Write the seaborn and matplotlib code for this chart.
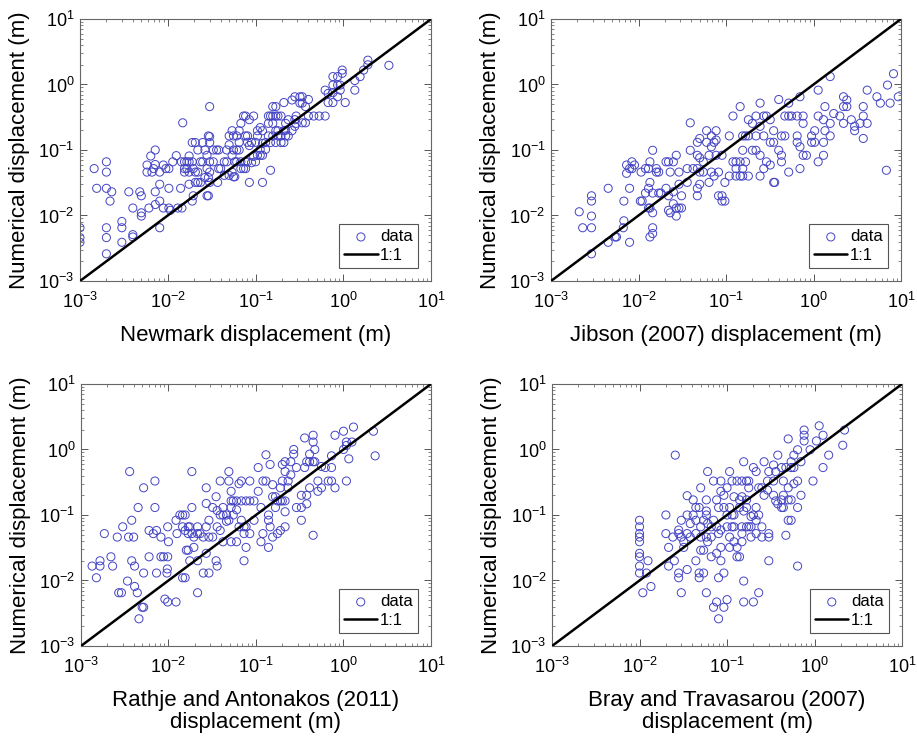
import matplotlib
matplotlib.use("Agg")
import matplotlib.pyplot as plt
import seaborn as sns
import pandas as pd

# Newmark vs numerical
newmark_x = [0.001, 0.001, 0.001, 0.00145, 0.00155, 0.002, 0.002, 0.002, 0.002, 0.002, 0.002,
             0.0023, 0.0022, 0.003, 0.003, 0.003, 0.0036, 0.004, 0.004, 0.004, 0.0048, 0.005, 0.005, 0.005,
             0.0058, 0.0058, 0.0061, 0.0064, 0.0066, 0.0069, 0.0072, 0.0072, 0.0072, 0.0072,
             0.0081, 0.0081, 0.0081, 0.0081, 0.0089, 0.0089, 0.0095, 0.0103, 0.0103, 0.0103, 0.0107,
             0.0114, 0.0125, 0.013, 0.0145, 0.014, 0.0143, 0.0148, 0.0155, 0.0155, 0.0155, 0.0165, 0.0165,
             0.0175, 0.0175, 0.0175, 0.0175, 0.019, 0.019, 0.019, 0.0195, 0.0195, 0.0206, 0.0206, 0.0206,
             0.022, 0.022, 0.022, 0.0236, 0.0236, 0.025, 0.025, 0.0265, 0.0265, 0.028, 0.028, 0.028,
             0.029, 0.029, 0.029, 0.030, 0.030, 0.030, 0.030, 0.030, 0.030, 0.033, 0.033, 0.036, 0.037,
             0.038, 0.038, 0.04, 0.044, 0.044, 0.047, 0.047, 0.05, 0.05, 0.05, 0.054, 0.054, 0.054,
             0.056, 0.056, 0.056, 0.058, 0.058, 0.061, 0.061, 0.061, 0.065, 0.065, 0.065,
             0.068, 0.068, 0.068, 0.073, 0.073, 0.077, 0.077, 0.077, 0.077, 0.081, 0.081, 0.081,
             0.085, 0.085, 0.085, 0.09, 0.09, 0.095, 0.095, 0.10, 0.10, 0.105, 0.105, 0.105,
             0.113, 0.113, 0.113, 0.12, 0.12, 0.12, 0.12, 0.13, 0.13, 0.14, 0.14, 0.14,
             0.148, 0.148, 0.148, 0.157, 0.157, 0.157, 0.157, 0.17, 0.17, 0.17, 0.17,
             0.18, 0.18, 0.18, 0.195, 0.195, 0.195, 0.21, 0.21, 0.21, 0.22, 0.22, 0.22,
             0.236, 0.236, 0.26, 0.26, 0.28, 0.28, 0.28, 0.29, 0.29, 0.32, 0.32, 0.34, 0.34, 0.34,
             0.37, 0.37, 0.40, 0.40, 0.46, 0.53, 0.62, 0.62, 0.67, 0.67, 0.76, 0.76, 0.76, 0.76,
             0.86, 0.86, 0.86, 0.92, 0.92, 0.97, 0.97, 1.05, 1.35, 1.35, 1.55, 1.7, 1.9, 1.9, 3.3]
newmark_y = [0.0065, 0.0046, 0.0039, 0.052, 0.026, 0.066, 0.046, 0.026, 0.0065, 0.0046, 0.0026,
             0.023, 0.0166, 0.0081, 0.0065, 0.0039, 0.023, 0.013, 0.0051, 0.0047, 0.023, 0.02, 0.011, 0.0098,
             0.059, 0.046, 0.013, 0.081, 0.046, 0.052, 0.10, 0.06, 0.023, 0.0147,
             0.030, 0.0166, 0.0065, 0.046, 0.059, 0.013, 0.052, 0.052, 0.026, 0.013, 0.012,
             0.066, 0.082, 0.013, 0.013, 0.026, 0.066, 0.26, 0.066, 0.052, 0.046, 0.066, 0.052,
             0.081, 0.066, 0.046, 0.030, 0.066, 0.13, 0.0166, 0.052, 0.02, 0.13, 0.032, 0.046,
             0.1, 0.046, 0.032, 0.032, 0.066, 0.066, 0.13, 0.10, 0.038, 0.083, 0.052, 0.02,
             0.02, 0.038, 0.164, 0.16, 0.46, 0.13, 0.066, 0.046, 0.032, 0.10, 0.066, 0.10, 0.032,
             0.10, 0.052, 0.052, 0.066, 0.041, 0.066, 0.10, 0.12, 0.041, 0.164, 0.197, 0.046, 0.083,
             0.10, 0.164, 0.039, 0.066, 0.039, 0.164, 0.066, 0.10, 0.10, 0.197, 0.131,
             0.255, 0.066, 0.052, 0.33, 0.052, 0.33, 0.052, 0.066, 0.164, 0.164, 0.066, 0.131,
             0.29, 0.032, 0.117, 0.13, 0.064, 0.33, 0.08, 0.066, 0.131, 0.164, 0.083, 0.197,
             0.22, 0.083, 0.102, 0.032, 0.083, 0.197, 0.126, 0.13, 0.102, 0.33, 0.164, 0.255,
             0.33, 0.049, 0.13, 0.46, 0.33, 0.164, 0.255, 0.46, 0.33, 0.13, 0.197,
             0.33, 0.197, 0.164, 0.164, 0.33, 0.13, 0.13, 0.53, 0.197, 0.255, 0.164, 0.2,
             0.164, 0.29, 0.58, 0.197, 0.65, 0.29, 0.23, 0.33, 0.255, 0.65, 0.52, 0.65, 0.52, 0.26,
             0.46, 0.26, 0.59, 0.33, 0.33, 0.33, 0.82, 0.33, 0.73, 0.53, 1.32, 0.53, 0.75, 0.98,
             1.32, 0.98, 0.65, 0.98, 0.82, 1.66, 1.48, 0.53, 0.82, 1.15, 1.32, 1.66, 2.35, 2.0, 1.96]

# Jibson (2007) vs numerical
jibson_x = [0.0021, 0.0023, 0.0029, 0.0029, 0.0029, 0.0029, 0.0029, 0.0045, 0.0045, 0.0054, 0.0056,
            0.0068, 0.0067, 0.0068, 0.0073, 0.0073, 0.0079, 0.0079, 0.0079, 0.0084, 0.0084, 0.009,
            0.0107, 0.0105, 0.011, 0.012, 0.012, 0.013, 0.013, 0.013, 0.0135, 0.0135, 0.0135, 0.0135,
            0.0145, 0.0145, 0.0145, 0.0145, 0.0145, 0.016, 0.016, 0.017, 0.017, 0.018, 0.0206, 0.0206,
            0.022, 0.022, 0.022, 0.023, 0.023, 0.025, 0.025, 0.025, 0.027, 0.027, 0.027,
            0.029, 0.029, 0.029, 0.031, 0.031, 0.036, 0.036, 0.039, 0.039, 0.042,
            0.047, 0.047, 0.047, 0.047, 0.047, 0.05, 0.05, 0.05, 0.05, 0.055, 0.055, 0.06, 0.06,
            0.064, 0.064, 0.068, 0.068, 0.068, 0.073, 0.073, 0.077, 0.077, 0.077, 0.082, 0.082,
            0.09, 0.09, 0.09, 0.097, 0.097, 0.109, 0.109, 0.12, 0.12, 0.13, 0.13, 0.13,
            0.145, 0.145, 0.145, 0.155, 0.155, 0.155, 0.155, 0.167, 0.167, 0.18, 0.18, 0.18,
            0.2, 0.2, 0.22, 0.22, 0.22, 0.245, 0.245, 0.245, 0.245, 0.27, 0.27, 0.27, 0.29, 0.29,
            0.32, 0.32, 0.32, 0.35, 0.35, 0.35, 0.36, 0.40, 0.40, 0.43, 0.43, 0.43, 0.47, 0.47,
            0.52, 0.52, 0.52, 0.56, 0.65, 0.65, 0.65, 0.7, 0.7, 0.7, 0.76, 0.76, 0.76, 0.83,
            0.95, 0.95, 1.03, 1.03, 1.13, 1.13, 1.13, 1.3, 1.3, 1.3, 1.35, 1.35, 1.55, 1.55, 1.55,
            1.7, 2.0, 2.2, 2.2, 2.2, 2.4, 2.4, 2.7, 2.95, 2.95, 3.4, 3.7, 3.7, 3.7, 4.1, 4.1,
            5.3, 5.8, 7.0, 6.8, 7.5, 8.2, 9.3]
jibson_y = [0.0114, 0.0065, 0.0065, 0.020, 0.0166, 0.0098, 0.0026, 0.026, 0.0039, 0.0047, 0.0047,
            0.0083, 0.0065, 0.0166, 0.059, 0.044, 0.026, 0.0039, 0.052, 0.052, 0.066, 0.059,
            0.046, 0.0166, 0.0166, 0.022, 0.052, 0.026, 0.013, 0.052, 0.0047, 0.013, 0.032, 0.066,
            0.0065, 0.0053, 0.022, 0.011, 0.099, 0.052, 0.046, 0.046, 0.022, 0.022, 0.066, 0.026,
            0.020, 0.066, 0.012, 0.046, 0.011, 0.066, 0.0151, 0.023, 0.013, 0.0098, 0.083,
            0.046, 0.030, 0.013, 0.013, 0.020, 0.032, 0.052, 0.26, 0.099, 0.052,
            0.131, 0.083, 0.020, 0.026, 0.052, 0.15, 0.076, 0.046, 0.030, 0.046, 0.066, 0.197, 0.131,
            0.032, 0.083, 0.164, 0.112, 0.046, 0.131, 0.040, 0.197, 0.142, 0.083, 0.046, 0.020,
            0.083, 0.020, 0.0166, 0.032, 0.0166, 0.164, 0.040, 0.33, 0.066, 0.052, 0.040, 0.066,
            0.46, 0.066, 0.040, 0.164, 0.099, 0.052, 0.040, 0.164, 0.066, 0.29, 0.164, 0.040,
            0.099, 0.255, 0.33, 0.164, 0.099, 0.52, 0.23, 0.083, 0.040, 0.33, 0.164, 0.052, 0.33, 0.066,
            0.29, 0.131, 0.059, 0.131, 0.197, 0.032, 0.032, 0.59, 0.099, 0.083, 0.066, 0.164, 0.164, 0.33,
            0.52, 0.33, 0.046, 0.33, 0.164, 0.33, 0.131, 0.112, 0.052, 0.65, 0.255, 0.083, 0.33, 0.083,
            0.164, 0.131, 0.131, 0.197, 0.33, 0.066, 0.82, 0.131, 0.29, 0.083, 0.46, 0.197, 1.32, 0.255, 0.164,
            0.36, 0.33, 0.65, 0.46, 0.255, 0.58, 0.46, 0.29, 0.197, 0.23, 0.255, 0.46, 0.33, 0.15, 0.82, 0.255,
            0.65, 0.52, 0.98, 0.049, 0.52, 1.46, 0.65]

# Rathje and Antonakos (2011) vs numerical
rathje_x = [0.00134, 0.0015, 0.00165, 0.00165, 0.00185, 0.0022, 0.0023, 0.0026, 0.0027, 0.0029, 0.003,
            0.0034, 0.0035, 0.0036, 0.0038, 0.0038, 0.004, 0.0041, 0.0041, 0.0044, 0.0045, 0.0046,
            0.005, 0.0052, 0.0052, 0.0052, 0.006, 0.006, 0.0067, 0.007, 0.007, 0.0073, 0.0073,
            0.0082, 0.0082, 0.0088, 0.0091, 0.0096, 0.0097, 0.0098, 0.0098, 0.0098, 0.01, 0.0122, 0.0122,
            0.0125, 0.0135, 0.0145, 0.0145, 0.0145, 0.0155, 0.0155, 0.0155, 0.016, 0.0168, 0.0168, 0.0168,
            0.0175, 0.0175, 0.0185, 0.0185, 0.0185, 0.0195, 0.0195, 0.0215, 0.0215, 0.0215, 0.0215,
            0.023, 0.025, 0.025, 0.027, 0.027, 0.027, 0.027, 0.029, 0.029, 0.029, 0.032, 0.032,
            0.035, 0.035, 0.036, 0.036, 0.036, 0.039, 0.039, 0.039, 0.042, 0.042, 0.042, 0.046, 0.046,
            0.049, 0.049, 0.049, 0.052, 0.052, 0.052, 0.052, 0.055, 0.055, 0.06, 0.06, 0.06, 0.064, 0.064,
            0.068, 0.068, 0.068, 0.073, 0.073, 0.073, 0.077, 0.077, 0.077, 0.085, 0.085, 0.085,
            0.095, 0.095, 0.106, 0.106, 0.114, 0.114, 0.12, 0.12, 0.13, 0.13, 0.139, 0.139, 0.139,
            0.145, 0.145, 0.155, 0.155, 0.155, 0.167, 0.167, 0.176, 0.176, 0.19, 0.19, 0.19, 0.2, 0.2, 0.2,
            0.215, 0.215, 0.215, 0.215, 0.215, 0.233, 0.233, 0.25, 0.25, 0.27, 0.27, 0.29, 0.29,
            0.33, 0.33, 0.33, 0.36, 0.36, 0.38, 0.38, 0.38, 0.41, 0.41, 0.41, 0.45, 0.45, 0.45, 0.45,
            0.47, 0.47, 0.51, 0.51, 0.56, 0.56, 0.62, 0.67, 0.73, 0.73, 0.73, 0.8, 0.8, 1.0, 1.0,
            1.08, 1.08, 1.08, 1.15, 1.3, 1.25, 2.2, 2.3]
rathje_y = [0.0166, 0.011, 0.0166, 0.020, 0.052, 0.023, 0.0166, 0.046, 0.0065, 0.0065, 0.066,
            0.0098, 0.046, 0.46, 0.083, 0.020, 0.046, 0.0166, 0.0081, 0.0065, 0.13, 0.0026,
            0.0039, 0.0039, 0.26, 0.013, 0.058, 0.023, 0.052, 0.33, 0.13, 0.058, 0.013,
            0.046, 0.023, 0.023, 0.0052, 0.013, 0.015, 0.0047, 0.066, 0.023, 0.039, 0.0047, 0.083,
            0.052, 0.1, 0.1, 0.011, 0.066, 0.1, 0.011, 0.058, 0.029, 0.029, 0.066, 0.052,
            0.066, 0.020, 0.46, 0.13, 0.052, 0.046, 0.032, 0.0065, 0.020, 0.052, 0.066,
            0.052, 0.013, 0.046, 0.26, 0.026, 0.15, 0.066, 0.013, 0.083, 0.046, 0.13, 0.046,
            0.020, 0.19, 0.0166, 0.066, 0.117, 0.33, 0.058, 0.1, 0.1, 0.039, 0.13, 0.1, 0.08,
            0.46, 0.33, 0.083, 0.23, 0.164, 0.13, 0.039, 0.164, 0.1, 0.164, 0.039, 0.12, 0.3, 0.066,
            0.33, 0.164, 0.083, 0.066, 0.020, 0.052, 0.164, 0.032, 0.066, 0.33, 0.164, 0.052,
            0.083, 0.164, 0.53, 0.23, 0.13, 0.039, 0.33, 0.052, 0.83, 0.33, 0.1, 0.083, 0.032,
            0.59, 0.066, 0.19, 0.046, 0.29, 0.19, 0.13, 0.164, 0.052, 0.26, 0.058, 0.164, 0.59, 0.33, 0.164,
            0.65, 0.46, 0.164, 0.112, 0.066, 0.33, 0.26, 0.65, 0.41, 1.0, 0.85, 0.13, 0.53,
            0.13, 0.2, 0.083, 1.5, 0.53, 0.65, 0.2, 0.148, 0.85, 0.26, 0.65, 1.65, 0.049, 0.65, 1.3,
            1.0, 0.65, 0.23, 0.33, 0.55, 0.26, 0.53, 0.33, 0.33, 0.53, 0.8, 1.65, 0.26, 1.9, 1.0,
            1.3, 0.33, 1.15, 0.72, 2.2, 1.3, 1.9, 0.8]

# Bray and Travasarou (2007) vs numerical
bray_x = [0.01, 0.01, 0.01, 0.01, 0.01, 0.01, 0.01, 0.01, 0.01, 0.0109, 0.0125, 0.012, 0.0135,
          0.020, 0.020, 0.0215, 0.0215, 0.024, 0.0256, 0.025, 0.028, 0.028, 0.028, 0.028,
          0.030, 0.030, 0.030, 0.032, 0.032, 0.035, 0.035, 0.035, 0.035, 0.038, 0.038, 0.041, 0.041,
          0.044, 0.044, 0.044, 0.044, 0.048, 0.048, 0.048, 0.05, 0.05, 0.05, 0.05, 0.054, 0.054, 0.054,
          0.058, 0.058, 0.058, 0.058, 0.058, 0.06, 0.06, 0.06, 0.066, 0.066, 0.066, 0.07, 0.07, 0.07,
          0.076, 0.076, 0.076, 0.076, 0.08, 0.08, 0.08, 0.08, 0.085, 0.085, 0.085, 0.085, 0.085,
          0.092, 0.092, 0.092, 0.092, 0.1, 0.1, 0.1, 0.1, 0.107, 0.107, 0.107, 0.107,
          0.114, 0.114, 0.114, 0.12, 0.12, 0.12, 0.12, 0.13, 0.13, 0.13, 0.139, 0.139, 0.139,
          0.148, 0.148, 0.148, 0.148, 0.148, 0.155, 0.155, 0.155, 0.155, 0.167, 0.167, 0.167, 0.167,
          0.177, 0.177, 0.177, 0.188, 0.188, 0.188, 0.2, 0.2, 0.2, 0.215, 0.215, 0.215, 0.215,
          0.23, 0.23, 0.23, 0.25, 0.25, 0.25, 0.265, 0.265, 0.29, 0.29, 0.3, 0.3, 0.3, 0.3,
          0.34, 0.34, 0.34, 0.36, 0.36, 0.38, 0.38, 0.42, 0.42, 0.42, 0.44, 0.44, 0.44, 0.47, 0.47,
          0.5, 0.5, 0.5, 0.5, 0.54, 0.54, 0.54, 0.54, 0.58, 0.58, 0.58, 0.64, 0.64, 0.64, 0.64,
          0.7, 0.7, 0.76, 0.76, 0.76, 0.89, 0.96, 1.05, 1.13, 1.25, 1.25, 1.45, 2.1, 2.2]
bray_y = [0.083, 0.066, 0.052, 0.046, 0.039, 0.026, 0.023, 0.0166, 0.013, 0.0065, 0.020, 0.013, 0.0081,
          0.1, 0.052, 0.032, 0.0166, 0.046, 0.82, 0.020, 0.013, 0.011, 0.052, 0.059,
          0.083, 0.0065, 0.046, 0.039, 0.032, 0.1, 0.197, 0.0147, 0.052, 0.074, 0.046, 0.17, 0.1,
          0.13, 0.083, 0.052, 0.020, 0.13, 0.013, 0.011, 0.26, 0.066, 0.029, 0.046, 0.029, 0.013, 0.083,
          0.1, 0.115, 0.17, 0.0065, 0.046, 0.46, 0.074, 0.039, 0.046, 0.066, 0.023, 0.33, 0.083, 0.0039,
          0.066, 0.026, 0.17, 0.0047, 0.13, 0.011, 0.0026, 0.052, 0.23, 0.020, 0.032, 0.33, 0.059,
          0.13, 0.0039, 0.013, 0.2, 0.066, 0.0051, 0.26, 0.1, 0.46, 0.046, 0.032, 0.13,
          0.066, 0.33, 0.1, 0.1, 0.039, 0.19, 0.066, 0.023, 0.032, 0.33, 0.17, 0.023, 0.13,
          0.066, 0.33, 0.052, 0.039, 0.19, 0.65, 0.0098, 0.0047, 0.115, 0.33, 0.066, 0.17, 0.13,
          0.33, 0.066, 0.26, 0.066, 0.095, 0.046, 0.53, 0.1, 0.0047, 0.46, 0.083, 0.13, 0.052,
          0.1, 0.26, 0.0065, 0.26, 0.066, 0.046, 0.65, 0.2, 0.33, 0.24, 0.052, 0.046, 0.020, 0.46,
          0.2, 0.33, 0.58, 0.46, 0.164, 0.82, 0.148, 0.13, 0.17, 0.53, 0.33, 0.13, 0.2, 0.049, 0.53,
          0.17, 0.083, 1.45, 0.26, 0.65, 0.083, 0.17, 0.53, 0.53, 0.82, 0.30, 0.99, 0.0166, 0.33, 0.13,
          0.2, 0.65, 1.98, 1.65, 1.35, 0.99, 0.33, 1.35, 2.3, 1.65, 0.53, 0.82, 1.16, 1.98]

panels = [
    (newmark_x, newmark_y, "Newmark displacement (m)"),
    (jibson_x, jibson_y, "Jibson (2007) displacement (m)"),
    (rathje_x, rathje_y, "Rathje and Antonakos (2011)\ndisplacement (m)"),
    (bray_x, bray_y, "Bray and Travasarou (2007)\ndisplacement (m)"),
]
one_to_one = [1e-3, 1e1]

sns.set_style("ticks")
plt.rcParams["font.family"] = ["Liberation Sans", "DejaVu Sans"]
plt.rcParams["mathtext.fontset"] = "custom"
plt.rcParams["mathtext.rm"] = "Liberation Sans"
plt.rcParams["mathtext.it"] = "Liberation Sans:italic"
plt.rcParams["text.color"] = "black"
plt.rcParams["axes.labelcolor"] = "black"

fig = plt.figure(figsize=(9.17, 7.42), dpi=100)
positions = [
    [0.0872, 0.6213, 0.3830, 0.3531],
    [0.6009, 0.6213, 0.3817, 0.3531],
    [0.0883, 0.1294, 0.3817, 0.3531],
    [0.6020, 0.1294, 0.3817, 0.3531],
]

for pos, (xs, ys, xlabel) in zip(positions, panels):
    ax = fig.add_axes(pos)
    df = pd.DataFrame({"x": xs, "y": ys})
    sns.scatterplot(data=df, x="x", y="y", ax=ax, marker="o", s=34,
                    facecolor="none", edgecolor="#4444c4", linewidth=0.7,
                    label="data", zorder=2)
    ax.plot(one_to_one, one_to_one, color="black", lw=1.8, label="1:1", zorder=3)
    ax.set_xscale("log")
    ax.set_yscale("log")
    ax.set_xlim(1e-3, 1e1)
    ax.set_ylim(1e-3, 1e1)
    ax.tick_params(which="both", direction="in", top=True, right=True,
                   color="#555555", labelcolor="black", labelsize=13)
    ax.tick_params(which="major", length=5, width=0.7)
    ax.tick_params(which="minor", length=2.5, width=0.5)
    ax.tick_params(axis="x", which="major", pad=8)
    ax.tick_params(axis="y", which="major", pad=4)
    for sp in ax.spines.values():
        sp.set_color("#666666")
        sp.set_linewidth(0.8)
    ax.set_xlabel(xlabel, fontsize=16, labelpad=9, linespacing=1.1)
    ax.set_ylabel("Numerical displacement (m)", fontsize=16, labelpad=6)
    leg = ax.legend(loc="lower right", fontsize=12, frameon=True, fancybox=False,
                    framealpha=1, edgecolor="#555555", borderpad=0.3,
                    handlelength=2.0, handletextpad=0.15, labelspacing=0.2,
                    borderaxespad=0.8)
    leg.get_frame().set_linewidth(0.8)
    for t in leg.get_texts():
        t.set_color("black")

fig.savefig("out.png", dpi=100)
